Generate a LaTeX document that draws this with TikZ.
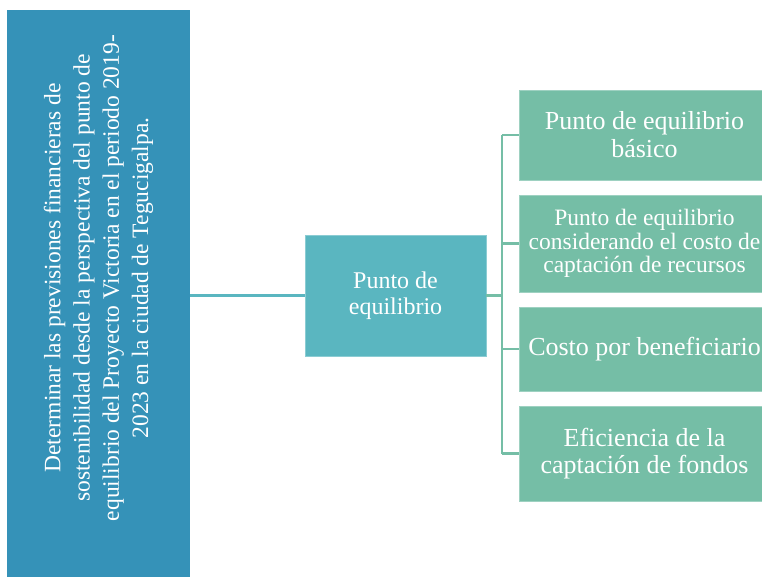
\documentclass[tikz,border=0pt]{standalone}
\usepackage{fontspec}
\setmainfont{Liberation Serif}
\usetikzlibrary{positioning, calc}
\definecolor{goalblue}{HTML}{3592B8}
\definecolor{midteal}{HTML}{5AB6C0}
\definecolor{leafgreen}{HTML}{75BEA6}

\begin{document}
\begin{tikzpicture}[x=1pt,y=-1pt,
  box/.style={rectangle, text=white, align=center, inner sep=2pt},
  goalbox/.style={box, fill=goalblue, minimum width=183pt, minimum height=572pt},
  midbox/.style={box, fill=midteal, draw=midteal!70!white, line width=0.6pt, minimum width=181pt, minimum height=121pt},
  leafbox/.style={box, fill=leafgreen, draw=leafgreen!70!white, line width=0.6pt, minimum width=251pt},
  link/.style={line width=2.4pt}]
\useasboundingbox (0,0) rectangle (762,576);
\clip (0,0) rectangle (762,576);
% left goal
\node[goalbox] (goal) at (98.5,296) {};
\node[box, rotate=90, font=\fontsize{23.5}{29.3}\selectfont] (goaltxt) at (98.5,278)
  {Determinar las previsiones financieras de\\
   sostenibilidad desde la perspectiva del punto de\\
   equilibrio del Proyecto Victoria en el periodo 2019-\\
   2023 en la ciudad de Tegucigalpa.};
% middle
\node[midbox, font=\fontsize{24}{25.5}\selectfont] (mid) at (395.5,295.5) {Punto de\\equilibrio};
% right column
\node[leafbox, minimum height=90pt, font=\fontsize{26}{28}\selectfont] (b1) at (644.5,135) {Punto de equilibrio\\básico};
\node[leafbox, minimum height=97pt, font=\fontsize{23.5}{23.7}\selectfont] (b2) at (644.5,243.5) {Punto de equilibrio\\considerando el costo de\\captación de recursos};
\node[leafbox, minimum height=84pt, font=\fontsize{26}{28}\selectfont] (b3) at (644.5,349) {Costo por beneficiario};
\node[leafbox, minimum height=95pt, font=\fontsize{26}{27.7}\selectfont] (b4) at (644.5,453.5) {Eficiencia de la\\captación de fondos};
% connectors
\coordinate (trunk) at (502,295.5);
\draw[link, midteal] (goal.east |- mid.west) -- (mid.west);
\draw[link, leafgreen] (mid.east) -- (trunk);
\draw[link, leafgreen] (b1.west -| trunk) -- (b4.west -| trunk);
\foreach \b in {b1,b2,b3,b4}
  \draw[link, leafgreen] (\b.west -| trunk) -- (\b.west);
\end{tikzpicture}
\end{document}
